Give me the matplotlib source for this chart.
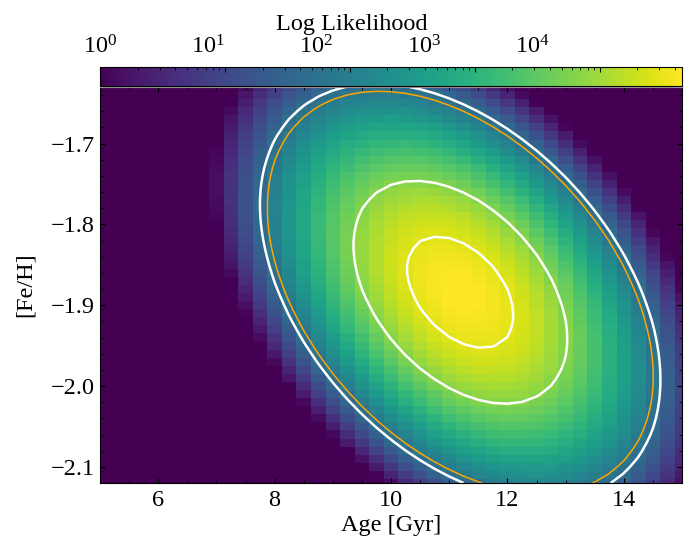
import numpy as np
import matplotlib
matplotlib.use("Agg")
import matplotlib.pyplot as plt
from matplotlib.colors import LogNorm
from matplotlib.ticker import MultipleLocator, LogLocator, NullFormatter

# fonts: Times-like serif everywhere, including the 10^n labels
plt.rcParams['font.family'] = 'serif'
plt.rcParams['font.serif'] = ['Liberation Serif', 'DejaVu Serif']
plt.rcParams['mathtext.fontset'] = 'custom'
plt.rcParams['mathtext.rm'] = 'Liberation Serif'
plt.rcParams['mathtext.it'] = 'Liberation Serif:italic'
plt.rcParams['font.size'] = 17.5

# grid of the likelihood map (cell centres)
age_centres = np.arange(5.0, 15.0 + 1e-9, 0.25)      # Gyr
feh_centres = np.arange(-2.12, -1.63 + 1e-9, 0.01)    # dex

# best fit
best_age = 11.19
best_feh = -1.884
sig_age = 0.92
sig_feh = 0.069
rho = -0.42
peak_log_like = 4.66

# contour levels, as delta chi^2 from the peak
white_levels = [1.0, 4.0, 14.0]
orange_levels = [1.0, 4.0, 13.0]

# build the map from the fitted values
A, F = np.meshgrid(age_centres, feh_centres)
u = (A - best_age) / sig_age
v = (F - best_feh) / sig_feh
chi2 = (u**2 - 2*rho*u*v + v**2) / (1 - rho**2)
like = 10**(peak_log_like - chi2 / (2*np.log(10)))

fig = plt.figure(figsize=(6.89, 5.40), dpi=100)
ax = fig.add_axes([100/689, 1 - 483/540, 582/689, 396/540])
cax = fig.add_axes([100/689, 1 - 86/540, 582/689, 19/540])
# the colorbar labels sit on a narrower axis than the bar itself
lax = fig.add_axes([100/689, 1 - 86/540, 504/689, 19/540], frameon=False)

norm = LogNorm(vmin=1, vmax=like.max())
mesh = ax.pcolormesh(age_centres, feh_centres, like, shading='nearest',
                     cmap='viridis', norm=norm)
ax.contour(age_centres, feh_centres, chi2, levels=orange_levels,
           colors='orange', linewidths=1.1)
ax.contour(age_centres, feh_centres, chi2, levels=white_levels,
           colors='white', linewidths=1.8)

ax.set_xlim(5, 15)
ax.set_ylim(-2.12, -1.63)
ax.xaxis.set_major_locator(MultipleLocator(2))
ax.xaxis.set_minor_locator(MultipleLocator(0.5))
ax.yaxis.set_major_locator(MultipleLocator(0.1))
ax.yaxis.set_minor_locator(MultipleLocator(0.02))
ax.tick_params(which='both', direction='in', top=True, right=True)
ax.tick_params(axis='x', pad=5)
ax.spines['top'].set_color('0.6')
ax.set_xlabel('Age [Gyr]', labelpad=3)
ax.set_ylabel('[Fe/H]', labelpad=11)

cb = fig.colorbar(mesh, cax=cax, orientation='horizontal')
cax.xaxis.set_ticks_position('top')
cax.tick_params(which='both', direction='in', labeltop=False, labelbottom=False)

lax.patch.set_visible(False)
lax.set_yticks([])
lax.set_xscale('log')
lax.set_xlim(1, like.max())
lax.xaxis.set_major_locator(LogLocator(base=10))
lax.xaxis.set_minor_formatter(NullFormatter())
lax.xaxis.set_ticks_position('top')
lax.xaxis.set_label_position('top')
lax.tick_params(which='both', length=0, pad=6)
lax.set_xlabel('Log Likelihood', labelpad=4)

fig.savefig('out.png', dpi=100)
